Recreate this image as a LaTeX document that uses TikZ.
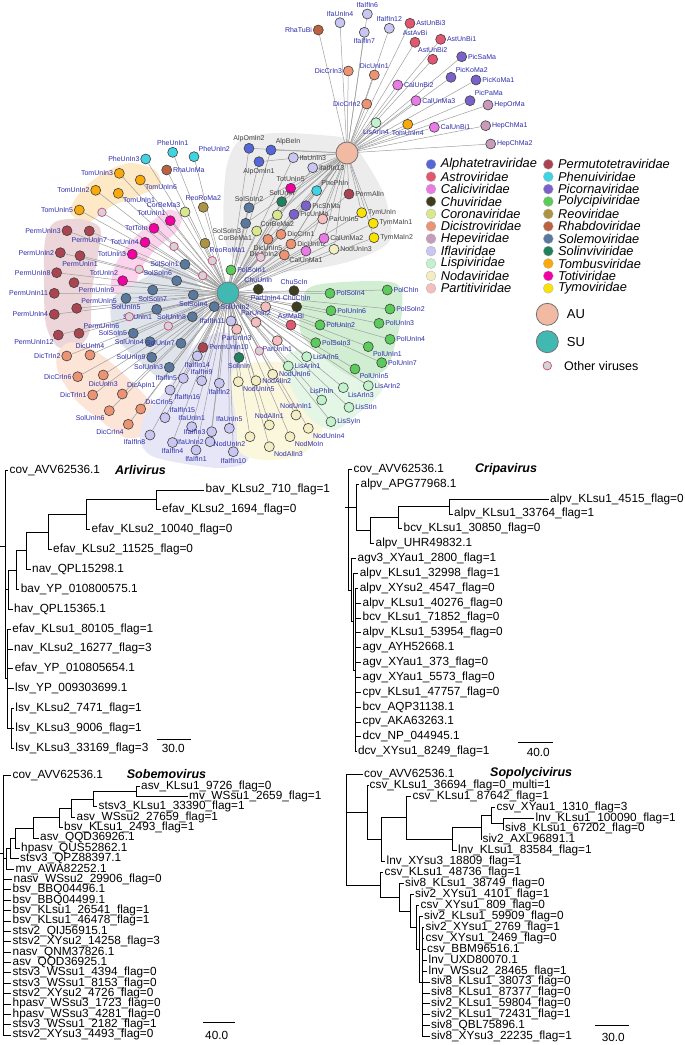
\documentclass[tikz,border=0pt]{standalone}
\usepackage{fontspec}
\setmainfont{Liberation Sans}
\usetikzlibrary{positioning}

\definecolor{alp}{HTML}{5566D8}
\definecolor{ast}{HTML}{E2566F}
\definecolor{cal}{HTML}{EA7BE6}
\definecolor{chu}{HTML}{3E3E1E}
\definecolor{cor}{HTML}{D9E88E}
\definecolor{dic}{HTML}{EC9373}
\definecolor{hep}{HTML}{C99BBB}
\definecolor{ifl}{HTML}{C9C6F2}
\definecolor{lis}{HTML}{C2F2CB}
\definecolor{nod}{HTML}{F2EDC2}
\definecolor{par}{HTML}{F5BDBD}
\definecolor{per}{HTML}{AA4450}
\definecolor{phe}{HTML}{3FD3E3}
\definecolor{pic}{HTML}{7B62CB}
\definecolor{pol}{HTML}{5BCB5B}
\definecolor{reo}{HTML}{AD9343}
\definecolor{rha}{HTML}{BC6142}
\definecolor{sol}{HTML}{5A799E}
\definecolor{sli}{HTML}{22805F}
\definecolor{tom}{HTML}{F9A90A}
\definecolor{tot}{HTML}{F200A2}
\definecolor{tym}{HTML}{F9E307}
\definecolor{auc}{HTML}{F2B9A3}
\definecolor{suc}{HTML}{42B8B2}
\definecolor{othring}{HTML}{C84A7E}
\definecolor{othfill}{HTML}{D4D4D4}
\definecolor{labblue}{HTML}{2C2CAA}
\definecolor{hlgray}{HTML}{ECECEC}
\definecolor{hltom}{HTML}{FDE9C6}
\definecolor{hlper}{HTML}{EDD6D9}
\definecolor{hltot}{HTML}{FCD3EC}
\definecolor{hlsol}{HTML}{DFE4EB}
\definecolor{hldic}{HTML}{FCE4D6}
\definecolor{hlifl}{HTML}{E6E6F7}
\definecolor{hlnod}{HTML}{FBF7DD}
\definecolor{hllis}{HTML}{E4F6E5}
\definecolor{hlpol}{HTML}{D2EED2}

\pgfdeclarelayer{hulls}
\pgfdeclarelayer{edges}
\pgfsetlayers{hulls,edges,main}

\tikzset{
	vnode/.style={circle, draw=black!75, line width=0.6pt, minimum size=10pt, inner sep=0pt},
	onode/.style={circle, draw=othring, fill=othfill, line width=0.7pt, minimum size=8.5pt, inner sep=0pt},
	hub/.style={circle, draw=black!55, line width=0.8pt, minimum size=22pt, inner sep=0pt},
	lblue/.style={font=\fontsize{7}{7}\selectfont, text=labblue, inner sep=0.8pt},
	lgray/.style={font=\fontsize{7}{7}\selectfont, text=black!75, inner sep=0.8pt},
	edge/.style={draw=black!38, line width=0.5pt},
	br/.style={line width=0.7pt},
	tip/.style={anchor=west, inner sep=1.5pt, text height=8.5pt, text depth=2.5pt, font=\fontsize{11.8}{12}\selectfont},
	ttl/.style={anchor=west, inner sep=0pt, font=\fontsize{12.5}{13}\bfseries\itshape},
	ldot/.style={circle, minimum size=10pt, inner sep=0pt, draw=black!30, line width=0.3pt},
	ltext/.style={anchor=west, inner sep=0.5pt, font=\fontsize{12.8}{13}\itshape},
}

\begin{document}
\begin{tikzpicture}[x=1pt, y=-1pt]
	\useasboundingbox (0,0) rectangle (685,1045);

	% family areas
	\begin{pgfonlayer}{hulls}
		\fill[hlgray] plot[smooth cycle] coordinates {(226,170) (240,140) (275,133) (320,135) (348,140) (368,165) (386,200) (390,240) (360,258) (320,268) (270,272) (238,264) (224,235)};
		\fill[hltom] plot[smooth cycle] coordinates {(70,212) (82,190) (105,172) (130,163) (155,170) (160,185) (138,196) (112,206) (88,222)};
		\fill[hlper] plot[smooth cycle] coordinates {(45,240) (55,222) (80,219) (100,228) (98,255) (92,290) (90,330) (80,345) (58,347) (46,325) (44,285)};
		\fill[hltot] plot[smooth cycle] coordinates {(112,292) (114,268) (128,245) (148,225) (168,210) (182,216) (176,232) (155,250) (140,270) (133,292)};
		\fill[hlsol] plot[smooth cycle] coordinates {(112,300) (140,280) (175,266) (195,280) (205,300) (200,325) (190,350) (178,375) (160,378) (140,362) (115,335)};
		\fill[hldic] plot[smooth cycle] coordinates {(58,352) (72,342) (100,354) (130,380) (152,406) (148,432) (126,438) (100,420) (76,400) (58,372)};
		\fill[hlifl] plot[smooth cycle] coordinates {(140,440) (145,415) (162,395) (180,370) (195,345) (222,332) (240,345) (240,380) (250,420) (248,460) (220,468) (175,462) (150,455)};
		\fill[hlnod] plot[smooth cycle] coordinates {(232,372) (262,362) (300,366) (318,395) (322,432) (300,455) (265,460) (240,452) (236,420)};
		\fill[hllis] plot[smooth cycle] coordinates {(282,362) (300,350) (330,360) (370,375) (382,390) (360,412) (335,430) (312,420) (295,395)};
		\fill[hlpol] plot[smooth cycle] coordinates {(305,292) (330,283) (395,283) (402,310) (395,345) (385,370) (355,378) (320,355) (300,330)};
	\end{pgfonlayer}

	\node[hub, fill=auc] (AU) at (347,153) {};
	\node[hub, fill=suc] (SU) at (228,293) {};

	% viruses linked to AU
	\foreach \n/\x/\y/\col/\pos in {
		RhaTuBi/318.3/30/rha/left, IfaUnIn4/340/22.7/ifl/above, IfaIfIn6/367.3/14/ifl/above,
		IfaIfIn7/364.3/32.3/ifl/below, IfaIfIn12/389.3/28.3/ifl/above, AstUnBi3/410/23.3/ast/right,
		AstAvBi/415/42.3/ast/above, AstUnBi1/440.7/39.3/ast/right, AstUnBi2/432.7/59.3/ast/above,
		PicSaMa/461.7/56.7/pic/right, DicCrIn3/348.3/71/dic/left, DicUnIn1/374.3/75/dic/above,
		CalUnBi2/397.7/85/cal/right, PicKoMa2/451/77.3/pic/above right, PicKoMa1/476/80/pic/right,
		DicCrIn2/366.7/104/dic/left, CalUnMa3/416/100.7/cal/right, PicPaMa/470/100.7/pic/above right,
		HepOrMa/488/105/hep/right, LisArIn4/376/122.7/lis/below, TomUnIn4/407.7/124.3/tom/below,
		CalUnBi1/434.3/127.3/cal/right, HepChMa1/485.7/125.7/hep/right, HepChMa2/490.7/144/hep/right}
	{
		\node[vnode, fill=\col, label={[lblue]\pos:\n}] (\n) at (\x,\y) {};
		\begin{pgfonlayer}{edges}
			\draw[edge] (AU) -- (\n);
		\end{pgfonlayer}
	}

	% viruses linked to both
	\foreach \n/\x/\y/\col/\pos in {
		AlpOmIn2/249/148.3/alp/above, AlpBeIn/271/150/alp/above right, AlpOmIn1/259/161.7/alp/below,
		IfaUnIn3/293.3/157.7/ifl/right, IfaIfIn13/312.7/167.7/ifl/right, TotUnIn5/290.7/188.3/tot/above,
		PhePhIn/316.7/190.7/phe/above right, SolUnIn/281.7/201.7/sli/above, SolSoIn2/249/207.7/sol/above,
		PicShMa/306/205.7/pic/right, CorBeMa2/277.3/215/cor/below, PicUnMa/294/214.3/pic/right,
		ParUnIn5/322.7/219/par/right, SolSoIn3/245.7/223.3/sol/below left, CorBeMa1/256.7/231/cor/below left,
		DicUnIn5/268/239.3/dic/below, DicCrIn1/281/234.3/dic/right, DicUnIn2/291/244/dic/right,
		DicApIn2/284.3/255/dic/left, CalUnMa2/324/238.3/cal/right, CalUnMa1/306/251/cal/below,
		NodUnIn3/334/249.3/nod/right, PermAlIn/349/194/per/right, TymUnIn/361.7/212.7/tym/right,
		TymMaIn1/373.3/223.3/tym/right, TymMaIn2/374/237.7/tym/right}
	{
		\node[vnode, fill=\col, label={[lgray]\pos:\n}] (\n) at (\x,\y) {};
		\begin{pgfonlayer}{edges}
			\draw[edge] (AU) -- (\n);
			\draw[edge] (SU) -- (\n);
		\end{pgfonlayer}
	}

	% viruses linked to SU
	\foreach \n/\x/\y/\col/\pos in {
		PheUnIn3/145.7/159/phe/left, PheUnIn1/172.7/152.3/phe/above, PheUnIn2/194/156.7/phe/above right,
		RhaUnMa/166.7/170/rha/right, TomUnIn3/119.3/173.3/tom/left, TomUnIn6/140.3/180/tom/below right,
		TomUnIn2/95.7/190.3/tom/left, TomUnIn1/118.3/193.3/tom/below right, TomUnIn5/79.3/210/tom/left,
		CorBeMa3/185/212/cor/above left, ReoRoMa2/203.3/207.3/reo/above, ReoRoMa1/205/243.3/reo/below right,
		TotUnIn1/170.3/220.7/tot/above left, TotToIn/154/228.3/tot/left, TotUnIn4/145/242.3/tot/left,
		TotUnIn3/132.3/254.3/tot/left, TotUnIn2/122.7/280.7/tot/above left,
		PermUnIn3/67/230.7/per/left, PermUnIn7/89.3/231/per/below, PermUnIn2/60.3/252.7/per/left,
		PermUnIn1/80/255.7/per/below, PermUnIn8/56.7/272.7/per/left, PermUnIn9/74/282.7/per/below right,
		PermUnIn11/54.3/293.3/per/left, PermUnIn5/76.7/308.3/per/above right, PermUnIn4/54.3/314.3/per/left,
		PermUnIn6/79/333.3/per/above right, PermUnIn12/58.3/335/per/below left,
		SolSoIn1/185/264.3/sol/left, SolSoIn6/176.7/280.7/sol/above left, SolSoIn7/152.7/290/sol/below,
		SolSoIn4/193.3/295/sol/below, SolUnIn5/126/298.3/sol/below, SolUnIn1/156.7/309.3/sol/below left,
		SolUnIn8/192.3/316.7/sol/left, SolSoIn5/133.3/333.3/sol/left, SolUnIn4/150/341.7/sol/left,
		SolUnIn7/181/343.3/sol/left, SolUnIn9/151.7/357.3/sol/left, SolUnIn3/169.3/367.3/sol/left,
		SolUnIn2/214.3/306.7/sol/right, PolSoIn1/231/270/pol/right,
		ChuUnIn/258.3/289.3/chu/above, ChuScIn/294/290.7/chu/above, ParUnIn4/265.7/306.7/par/above,
		ChuChIn/296.7/306.7/chu/above, ParUnIn2/256/322.3/par/above, AstMaBi/291/325/ast/above,
		ParUnIn3/236.7/329.3/par/below, IfaIfIn11/231/321/ifl/left, PermUnIn10/203/347.5/per/right,
		SolInIn/239/357.5/sli/below, ParUnIn1/277.3/340.7/par/below,
		DicTrIn2/66.7/356/dic/left, DicUnIn4/90/355/dic/above, DicCrIn6/77.7/376.7/dic/left,
		DicUnIn3/103.3/375/dic/below, DicTrIn1/92.7/395/dic/left, DicApIn1/122.3/394/dic/above right,
		SolUnIn6/109.3/410.7/dic/below left, DicCrIn5/140.7/409/dic/above right, DicCrIn4/128.3/424.3/dic/below left,
		IfaIfIn14/197.3/356/ifl/below, IfaIfIn9/201.7/380.7/ifl/above, IfaIfIn2/219.3/383.3/ifl/below,
		IfaIfIn5/183.3/378.3/ifl/left, IfaIfIn16/170/390/ifl/below right, IfaIfIn15/165/417.7/ifl/above right,
		IfaIfIn8/150/435/ifl/below left, IfaIfIn4/172.5/442.5/ifl/below, IfaIfIn1/196/450/ifl/below,
		IfaIfIn10/233.3/451.7/ifl/below, IfaUnIn1/191.7/426.7/ifl/above, IfaIfIn3/211.7/431.7/ifl/left,
		IfaUnIn2/210/441.7/ifl/left, IfaUnIn5/229.3/428.3/ifl/above,
		NodUnIn6/272.7/374.3/nod/right, NodAlIn2/256/380.7/nod/right, NodUnIn5/238.3/381.7/nod/below right,
		NodUnIn1/296/415/nod/above, NodAlIn1/269.3/425/nod/above, NodUnIn4/308.3/428.3/nod/below right,
		NodMoIn/290/436.7/nod/below right, NodUnIn2/250/436.7/nod/below left, NodAlIn3/269.3/446.7/nod/below right,
		LisArIn5/306.7/356.7/lis/right, LisArIn1/288.3/366/lis/right, LisPhIn/321.7/400/lis/above,
		LisArIn3/343.3/387.7/lis/below right, LisArIn2/368.3/385.7/lis/right, LisStIn/349/407.3/lis/right,
		LisSyIn/331/421.7/lis/right,
		PolSoIn4/330/293.3/pol/right, PolChIn/387.3/290/pol/right, PolUnIn6/331/310.7/pol/right,
		PolSoIn2/390/309/pol/right, PolUnIn2/320/325/pol/right, PolUnIn3/379/323.3/pol/right,
		PolSoIn3/315.7/342.7/pol/right, PolUnIn4/390/339.3/pol/right, PolUnIn1/368.3/346.7/pol/below right,
		PolUnIn7/381.7/362.7/pol/right, PolUnIn5/355/369/pol/below right}
	{
		\node[vnode, fill=\col, label={[lblue]\pos:\n}] (\n) at (\x,\y) {};
		\begin{pgfonlayer}{edges}
			\draw[edge] (SU) -- (\n);
		\end{pgfonlayer}
	}

	% other viruses
	\foreach \n/\x/\y in {o1/102/212.3, o2/174/246.5, o3/139.3/269.3, o4/129.3/316.7, o5/168.3/326,
		o6/212.3/260.7, o7/202.7/275.7, o8/260.7/257.3, o9/259.3/351}
	{
		\node[onode] (\n) at (\x,\y) {};
		\begin{pgfonlayer}{edges}
			\draw[edge] (SU) -- (\n);
		\end{pgfonlayer}
	}

	% legend
	\foreach \col/\fam [count=\i from 0] in {alp/Alphatetraviridae, ast/Astroviridae, cal/Caliciviridae,
		chu/Chuviridae, cor/Coronaviridae, dic/Dicistroviridae, hep/Hepeviridae, ifl/Iflaviridae,
		lis/Lispiviridae, nod/Nodaviridae, par/Partitiviridae}
	{
		\node[ldot, fill=\col] (la\i) at (431,{164.3+12.4*\i}) {};
		\node[ltext, right=4pt of la\i] {\fam};
	}
	\foreach \col/\fam [count=\i from 0] in {per/Permutotetraviridae, phe/Phenuiviridae, pic/Picornaviridae,
		pol/Polycipiviridae, reo/Reoviridae, rha/Rhabdoviridae, sol/Solemoviridae, sli/Solinviviridae,
		tom/Tombusviridae, tot/Totiviridae, tym/Tymoviridae}
	{
		\node[ldot, fill=\col] (lb\i) at (548.3,{164.3+12.4*\i}) {};
		\node[ltext, right=4pt of lb\i] {\fam};
	}
	\node[hub, fill=auc] (lau) at (547.3,314.3) {};
	\node[anchor=west, inner sep=0pt, font=\fontsize{13}{13}\selectfont, right=8pt of lau] {AU};
	\node[hub, fill=suc] (lsu) at (547.3,341.7) {};
	\node[anchor=west, inner sep=0pt, font=\fontsize{13}{13}\selectfont, right=8pt of lsu] {SU};
	\node[onode] (loth) at (547.3,365.7) {};
	\node[anchor=west, inner sep=0pt, font=\fontsize{12.5}{13}\selectfont, right=12pt of loth] {Other viruses};

	% Arlivirus
	\coordinate (ar1) at (156.7,499.82);
	\coordinate (ar2) at (86.7,514.73);
	\coordinate (ar3) at (48.3,532.13);
	\coordinate (ar4) at (26.7,550.77);
	\coordinate (ar5) at (16,570.02);
	\coordinate (ar6) at (8.3,589.59);
	\coordinate (ar7) at (11,728.44);
	\coordinate (ar8) at (7.5,678.74);
	\coordinate (ar0) at (5,574.37);
	\coordinate (arr) at (5,546.7);
	\draw[br] (arr) -- ++(-5,0);
	\draw[br] (ar0) |- (ar6) (ar0) |- (ar8) (ar6) |- (ar5) (ar5) |- (ar4) (ar4) |- (ar3) (ar3) |- (ar2) (ar2) |- (ar1) (ar8) |- (ar7);
	\foreach \p/\x/\lab [count=\i from 0] in {
		ar0/8/cov\_AVV62536.1, ar1/204/bav\_KLsu2\_710\_flag=1, ar1/160.5/efav\_KLsu2\_1694\_flag=0,
		ar2/90/efav\_KLsu2\_10040\_flag=0, ar3/51.5/efav\_KLsu2\_11525\_flag=0, ar4/30.5/nav\_QPL15298.1,
		ar5/19.2/bav\_YP\_010800575.1, ar6/12.5/hav\_QPL15365.1, ar8/10.8/efav\_KLsu1\_80105\_flag=1,
		ar8/12.5/nav\_KLsu2\_16277\_flag=3, ar8/13.2/efav\_YP\_010805654.1, ar8/13.5/lsv\_YP\_009303699.1,
		ar7/13.8/lsv\_KLsu2\_7471\_flag=1, ar7/13.8/lsv\_KLsu3\_9006\_flag=1, ar7/13.8/lsv\_KLsu3\_33169\_flag=3}
	{
		\node[tip] (ar-t\i) at (\x,{470+19.88*\i}) {\lab};
		\draw[br] (\p) |- (ar-t\i.west);
	}
	\node[ttl] (arname) at (115,470) {Arlivirus};
	\coordinate (arsa) at (156.7,739);
	\coordinate (arsb) at (190.7,739);
	\draw[br] (arsa) -- (arsb);
	\node[font=\fontsize{11.8}{12}\selectfont, inner sep=0pt] (arscale) at (173.3,748.3) {30.0};

	% Cripavirus
	\coordinate (cr4) at (449.3,506.45);
	\coordinate (cr3) at (398.3,517.6);
	\coordinate (cr2) at (370,530.6);
	\coordinate (cr1) at (356,507.38);
	\coordinate (cr7) at (355.5,669.91);
	\coordinate (cr6) at (353.5,621.62);
	\coordinate (cr5) at (351.2,590.04);
	\coordinate (cr0) at (348.3,529.67);
	\coordinate (crr) at (348.3,507.38);
	\draw[br] (crr) -- ++(-3.3,0);
	\draw[br] (cr0) |- (cr1) (cr0) |- (cr5) (cr1) |- (cr2) (cr2) |- (cr3) (cr3) |- (cr4) (cr5) |- (cr6) (cr6) |- (cr7);
	\foreach \p/\x/\lab [count=\i from 0] in {
		cr0/352/cov\_AVV62536.1, cr1/359/alpv\_APG77968.1, cr4/548.5/alpv\_KLsu1\_4515\_flag=0,
		cr4/452.5/alpv\_KLsu1\_33764\_flag=1, cr3/402/bcv\_KLsu1\_30850\_flag=0, cr2/374/alpv\_UHR49832.1,
		cr5/356/agv3\_XYau1\_2800\_flag=1, cr6/358.2/alpv\_KLsu1\_32998\_flag=1, cr7/358.2/alpv\_XYsu2\_4547\_flag=0,
		cr7/361/alpv\_KLsu1\_40276\_flag=0, cr7/361/bcv\_KLsu1\_71852\_flag=0, cr7/361/alpv\_KLsu1\_53954\_flag=0,
		cr7/361/agv\_AYH52668.1, cr7/361/agv\_XYau1\_373\_flag=0, cr7/361/agv\_XYau1\_5573\_flag=0,
		cr7/361/cpv\_KLsu1\_47757\_flag=0, cr7/361/bcv\_AQP31138.1, cr7/361/cpv\_AKA63263.1,
		cr7/361/dcv\_NP\_044945.1, cr7/356.3/dcv\_XYsu1\_8249\_flag=1}
	{
		\node[tip] (cr-t\i) at (\x,{469.3+14.86*\i}) {\lab};
		\draw[br] (\p) |- (cr-t\i.west);
	}
	\node[ttl] (crname) at (475,469.3) {Cripavirus};
	\coordinate (crsa) at (518.3,742.3);
	\coordinate (crsb) at (553.3,742.3);
	\draw[br] (crsa) -- (crsb);
	\node[font=\fontsize{11.8}{12}\selectfont, inner sep=0pt] (crscale) at (538.3,752) {40.0};

	% Sobemovirus
	\coordinate (sb1) at (136,791.26);
	\coordinate (sb2) at (93.3,799.03);
	\coordinate (sb3) at (71,808.1);
	\coordinate (sb4) at (59.3,817.8);
	\coordinate (sb5) at (33.3,827.9);
	\coordinate (sb6) at (15,838.1);
	\coordinate (sb7) at (10,848.4);
	\coordinate (sb8) at (6.5,858.7);
	\coordinate (sb0) at (3.5,905.3);
	\coordinate (sbr) at (3.5,853.3);
	\draw[br] (sbr) -- ++(-3.5,0);
	\draw[br] (sb0) |- (sb8) (sb8) |- (sb7) (sb7) |- (sb6) (sb6) |- (sb5) (sb5) |- (sb4) (sb4) |- (sb3) (sb3) |- (sb2) (sb2) |- (sb1);
	\foreach \p/\x/\lab [count=\i from 0] in {
		sb0/11/cov\_AVV62536.1, sb1/139.5/asv\_KLsu1\_9726\_flag=0, sb1/187.5/mv\_WSsu1\_2659\_flag=1,
		sb2/97/stsv3\_KLsu1\_33390\_flag=1, sb3/75/asv\_WSsu2\_27659\_flag=1, sb4/62.5/bsv\_KLsu1\_2493\_flag=1,
		sb5/38.5/asv\_QQD36926.1, sb6/19.5/hpasv\_QUS52862.1, sb7/18.5/stsv3\_QPZ88397.1,
		sb8/14/mv\_AWA82252.1, sb0/12/nasv\_WSsu2\_29906\_flag=0, sb0/11/bsv\_BBQ04496.1,
		sb0/11/bsv\_BBQ04499.1, sb0/11/bsv\_KLsu1\_26541\_flag=1, sb0/11/bsv\_KLsu1\_46478\_flag=1,
		sb0/11/stsv2\_QIJ56915.1, sb0/11/stsv2\_XYsu2\_14258\_flag=3, sb0/11/nasv\_QNM37826.1,
		sb0/11/asv\_QQD36925.1, sb0/11/stsv3\_WSsu1\_4394\_flag=0, sb0/11/stsv3\_WSsu1\_8153\_flag=0,
		sb0/11/stsv2\_XYsu2\_4726\_flag=0, sb0/11/hpasv\_WSsu3\_1723\_flag=0, sb0/11/hpasv\_WSsu3\_4281\_flag=0,
		sb0/11/stsv3\_WSsu1\_2182\_flag=1, sb0/11/stsv2\_XYsu3\_4493\_flag=0}
	{
		\node[tip] (sb-t\i) at (\x,{775.7+10.37*\i}) {\lab};
		\draw[br] (\p) |- (sb-t\i.west);
	}
	\node[ttl] (sbname) at (126.7,774.3) {Sobemovirus};
	\coordinate (sbsa) at (203.3,1022.3);
	\coordinate (sbsb) at (235,1022.3);
	\draw[br] (sbsa) -- (sbsb);
	\node[font=\fontsize{11.8}{12}\selectfont, inner sep=0pt] (sbscale) at (216.7,1035) {40.0};

	% Sopolycivirus
	\coordinate (sp1) at (503,823.49);
	\coordinate (sp2) at (491.7,815.29);
	\coordinate (sp3) at (481,827.59);
	\coordinate (sp4) at (452.3,839.2);
	\coordinate (sp5) at (406.7,817.68);
	\coordinate (sp6) at (381,839.71);
	\coordinate (sp7) at (367.7,812.47);
	\coordinate (sq6) at (422.5,981.97);
	\coordinate (sq5) at (419.5,949.18);
	\coordinate (sq4) at (416,927.32);
	\coordinate (sq3) at (410,910.93);
	\coordinate (sq2) at (399,897.27);
	\coordinate (sq1) at (380,884.97);
	\coordinate (sp0) at (346,829.64);
	\draw[br] (sp0) |- (sp7) (sp0) |- (sq1) (sp7) |- (sp6) (sp6) |- (sp5) (sp5) |- (sp4) (sp4) |- (sp3) (sp3) |- (sp2) (sp2) |- (sp1)
		(sq1) |- (sq2) (sq2) |- (sq3) (sq3) |- (sq4) (sq4) |- (sq5) (sq5) |- (sq6);
	\foreach \p/\x/\lab [count=\i from 0] in {
		sp0/362.5/cov\_AVV62536.1, sp7/368/csv\_KLsu1\_36694\_flag=0\_multi=1, sp5/411/csv\_KLsu1\_87642\_flag=1,
		sp2/495/csv\_XYau1\_1310\_flag=3, sp1/534/lnv\_KLsu1\_100090\_flag=1, sp1/503.5/siv8\_KLsu1\_67202\_flag=0,
		sp3/481/siv2\_AXL96891.1, sp4/456.5/lnv\_KLsu1\_83584\_flag=1, sp6/385/lnv\_XYsu3\_18809\_flag=1,
		sq1/383/csv\_KLsu1\_48736\_flag=1, sq2/403.5/siv8\_KLsu1\_38749\_flag=0, sq3/413.5/siv2\_XYsu1\_4101\_flag=1,
		sq4/419/csv\_XYsu1\_809\_flag=0, sq5/422.5/siv2\_KLsu1\_59909\_flag=0, sq6/424/siv2\_XYsu1\_2769\_flag=1,
		sq6/424/csv\_XYsu1\_2469\_flag=0, sq6/425.5/csv\_BBM96516.1, sq6/427/lnv\_UXD80070.1,
		sq6/427/lnv\_WSsu2\_28465\_flag=1, sq6/429.5/siv8\_KLsu1\_38073\_flag=0, sq6/429.5/siv8\_KLsu1\_87377\_flag=0,
		sq6/429.5/siv2\_KLsu1\_59804\_flag=0, sq6/429.5/siv2\_KLsu1\_72431\_flag=1, sq6/429.5/siv8\_QBL75896.1,
		sq6/429.5/siv8\_XYsu3\_22235\_flag=1}
	{
		\node[tip] (sp-t\i) at (\x,{774.3+10.93*\i}) {\lab};
		\draw[br] (\p) |- (sp-t\i.west);
	}
	\node[ttl] (spname) at (490,773.3) {Sopolycivirus};
	\coordinate (spsa) at (595,1025.7);
	\coordinate (spsb) at (629,1025.7);
	\draw[br] (spsa) -- (spsb);
	\node[font=\fontsize{11.8}{12}\selectfont, inner sep=0pt] (spscale) at (613.3,1037) {30.0};
\end{tikzpicture}
\end{document}
